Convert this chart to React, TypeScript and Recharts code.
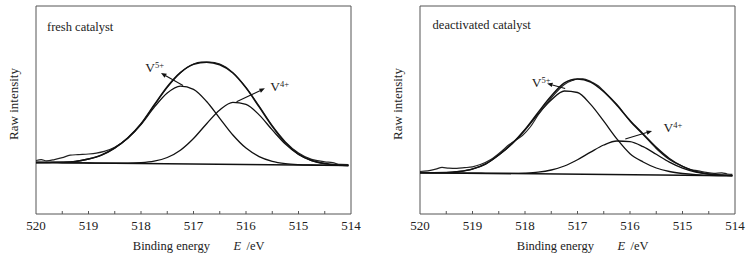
import { LineChart, Line, XAxis, YAxis, ReferenceArea, ReferenceLine, ReferenceDot } from 'recharts'

const FONT = 'Liberation Serif, Times New Roman, serif'
const INK = '#111'
const FRAME = '#555'
const serif = { fontFamily: FONT }

// binding energy axis (eV), reversed like the original
const energyTicks = [520, 519.5, 519, 518.5, 518, 517.5, 517, 516.5, 516, 515.5, 515, 514.5, 514]
const fitEnergy = [
  520, 519.75, 519.5, 519.25, 519, 518.75, 518.5, 518.25, 518, 517.75, 517.5, 517.25, 517,
  516.75, 516.5, 516.25, 516, 515.75, 515.5, 515.25, 515, 514.75, 514.5, 514.25, 514.05,
]
const baselineEnergy = [520, 514.05]

// fresh catalyst
const freshRawEnergy = [
  520, 519.9, 519.8, 519.65, 519.5, 519.35, 519.2, 519, 518.85, 518.7, 518.5, 518.25, 518, 517.75,
  517.5, 517.25, 517, 516.85, 516.7, 516.5, 516.25, 516, 515.75, 515.5, 515.25, 515, 514.75, 514.5,
  514.35, 514.2, 514.05,
]
const freshRaw = [
  51.5, 52.3, 51.2, 52.4, 54.3, 56.8, 57.4, 58, 58.9, 60.6, 64.8, 73.8, 87.8, 106.5, 124.6, 139.2,
  148, 149.8, 150, 148, 139.4, 124.6, 105.8, 86.3, 70.2, 59, 52.6, 50.2, 49.3, 47.6, 47.4,
]
const freshFit = [
  49.5, 49.6, 49.8, 50.5, 53, 57, 64, 74.2, 88.3, 107, 125.3, 139.4, 147.6, 149.8, 147.2, 139, 124.1,
  105.1, 85.6, 69.2, 57.9, 51.5, 48.4, 47.1, 46.6,
]
const freshV5 = [
  49.5, 49.6, 49.8, 50.5, 53, 57, 64, 74, 87.5, 104.6, 119, 125.9, 122.7, 110.5, 93.7, 77, 63.9, 55.4,
  50.7, 48.4, 47.4, 47, 46.8, 46.6, 46.5,
]
const freshV4 = [
  49.5, 49.4, 49.25, 49.1, 49, 48.9, 48.8, 48.85, 49.3, 50.8, 54.5, 61.8, 73.5, 88.3, 102, 109.6,
  107.7, 97.1, 82.1, 67.9, 57.5, 51.4, 48.4, 47.1, 46.6,
]
const freshBaseline = [49.5, 46.5]

// deactivated catalyst
const deactRawEnergy = [
  520, 519.85, 519.7, 519.58, 519.45, 519.3, 519.15, 519, 518.85, 518.65, 518.45, 518.3, 518.2,
  518.05, 517.9, 517.75, 517.5, 517.25, 517.1, 517, 516.9, 516.75, 516.6, 516.5, 516.25, 516,
  515.75, 515.5, 515.25, 515, 514.85, 514.7, 514.55, 514.4, 514.25, 514.15, 514.05,
]
const deactRaw = [
  40.5, 41.2, 42.8, 44.6, 43.8, 43.6, 44.3, 45.2, 47.5, 52.5, 60.5, 67.5, 71, 76.5, 85, 97, 114, 127.5,
  131.5, 133, 133.2, 130.5, 126, 121, 107.5, 91, 77.5, 63.5, 52.5, 45.8, 42.5, 41.2, 39.6, 38.6, 39.2,
  38, 37.6,
]
const deactFit = [
  39.3, 39.3, 39.4, 40.5, 43, 48, 57, 68.2, 82.6, 99.6, 115.9, 129.1, 133, 129.8, 120.2, 106.7, 91.4,
  78.1, 64.6, 53.5, 45.6, 40.6, 38, 36.9, 36.45,
]
const deactV5 = [
  39.3, 39.3, 39.4, 40.5, 43, 48, 57, 68, 82, 98, 112, 121, 119.5, 107.6, 90.8, 73.1, 58.3, 50, 44,
  40.5, 38.5, 37.3, 36.6, 36.45, 36.35,
]
const deactV4 = [
  39.3, 39.2, 39.05, 38.95, 38.8, 38.7, 38.6, 38.6, 38.9, 39.8, 42, 46, 52.3, 59.9, 67, 71, 70.4, 65.3,
  57.7, 49.9, 43.9, 40, 37.9, 36.9, 36.45,
]
const deactBaseline = [39.3, 36.3]

type Mark = { ion: string; from: [number, number]; tip: [number, number]; label: [number, number] }

const freshMarks: Mark[] = [
  { ion: '5+', from: [517.2, 126.5], tip: [517.62, 139], label: [517.92, 140] },
  { ion: '4+', from: [516.18, 110.3], tip: [515.64, 123.7], label: [515.54, 121.3] },
]
const deactMarks: Mark[] = [
  { ion: '5+', from: [517.235, 123.5], tip: [517.58, 128.5], label: [517.87, 125.3] },
  { ion: '4+', from: [516.09, 73], tip: [515.58, 81], label: [515.36, 80.3] },
]

const zip = (xs: number[], ys: number[]) => xs.map((e, i) => ({ e, v: ys[i] }))

function EnergyTick(props: any) {
  const { x, y, payload } = props
  const v = payload.value as number
  return (
    <g>
      {v !== 520 && v !== 514 && <line x1={x} y1={y} x2={x} y2={y - 3} stroke={FRAME} />}
      {Number.isInteger(v) && (
        <text x={x} y={y + 15.5} textAnchor="middle" fontSize={13} style={serif} fill="#222">
          {v}
        </text>
      )}
    </g>
  )
}

function Arrow(props: any) {
  const { x1, y1, x2, y2 } = props
  const a = Math.atan2(y2 - y1, x2 - x1)
  const c = Math.cos(a)
  const s = Math.sin(a)
  const bx = x2 - 5.5 * c
  const by = y2 - 5.5 * s
  const pts = `${x2},${y2} ${bx + 2.2 * s},${by - 2.2 * c} ${bx - 2.2 * s},${by + 2.2 * c}`
  return (
    <g>
      <line x1={x1} y1={y1} x2={bx} y2={by} stroke={INK} strokeWidth={1.1} />
      <polygon points={pts} fill={INK} />
    </g>
  )
}

const ionLabel = (ion: string) => (props: any) => (
  <text x={props.cx} y={props.cy} style={serif} fontSize={13.5} fill="#222">
    V
    <tspan dy={-4} fontSize={8.5}>
      {ion}
    </tspan>
  </text>
)

const frameLabel = (title: string, dx: number, dy: number) => (props: any) => {
  const { x, y, width, height } = props.viewBox
  const cx = x + width / 2
  const by = y + height + 36
  return (
    <g style={serif} fill="#222">
      <text x={x + dx} y={y + dy} fontSize={12.5} style={serif}>
        {title}
      </text>
      <text
        transform={`translate(${x - 22.5}, ${y + height / 2 - 6}) rotate(-90)`}
        textAnchor="middle"
        dominantBaseline="central"
        fontSize={13}
        style={serif}
      >
        Raw intensity
      </text>
      <text x={cx - 60.7} y={by} fontSize={12.5} style={serif}>
        Binding energy
      </text>
      <text x={cx + 40} y={by} fontSize={12.5} fontStyle="italic" style={serif}>
        E
      </text>
      <text x={cx + 53} y={by} fontSize={12.5} style={serif}>
        /eV
      </text>
    </g>
  )
}

type PanelProps = {
  title: string
  titleDx: number
  titleDy: number
  width: number
  left: number
  right: number
  rawEnergy: number[]
  raw: number[]
  fit: number[]
  v5: number[]
  v4: number[]
  baseline: number[]
  marks: Mark[]
}

function XpsPanel(p: PanelProps) {
  return (
    <LineChart width={p.width} height={254} margin={{ top: 6, right: p.right, bottom: 10, left: p.left }}>
      <XAxis
        type="number"
        dataKey="e"
        domain={[514, 520]}
        reversed
        allowDataOverflow
        ticks={energyTicks}
        interval={0}
        tickSize={0}
        tickMargin={0}
        tickLine={false}
        axisLine={false}
        tick={<EnergyTick />}
        height={30}
      />
      <YAxis type="number" domain={[-2, 206]} allowDataOverflow hide />
      <ReferenceArea
        x1={514}
        x2={520}
        y1={-2}
        y2={206}
        fill="none"
        stroke={FRAME}
        strokeWidth={1}
        label={frameLabel(p.title, p.titleDx, p.titleDy)}
      />
      <Line data={zip(baselineEnergy, p.baseline)} dataKey="v" type="linear" stroke={INK} strokeWidth={1.6} dot={false} isAnimationActive={false} />
      <Line data={zip(fitEnergy, p.v5)} dataKey="v" type="monotone" stroke={INK} strokeWidth={1.3} dot={false} isAnimationActive={false} />
      <Line data={zip(fitEnergy, p.v4)} dataKey="v" type="monotone" stroke={INK} strokeWidth={1.3} dot={false} isAnimationActive={false} />
      <Line data={zip(p.rawEnergy, p.raw)} dataKey="v" type="monotone" stroke="#222" strokeWidth={1.2} dot={false} isAnimationActive={false} />
      <Line data={zip(fitEnergy, p.fit)} dataKey="v" type="monotone" stroke={INK} strokeWidth={1.5} dot={false} isAnimationActive={false} />
      {p.marks.map((m) => (
        <ReferenceLine
          key={`a${m.ion}`}
          segment={[
            { x: m.from[0], y: m.from[1] },
            { x: m.tip[0], y: m.tip[1] },
          ]}
          shape={Arrow}
        />
      ))}
      {p.marks.map((m) => (
        <ReferenceDot key={`l${m.ion}`} x={m.label[0]} y={m.label[1]} r={0} shape={ionLabel(m.ion)} />
      ))}
    </LineChart>
  )
}

export default function App() {
  return (
    <div style={{ position: 'absolute', left: 0, top: 0, width: 747, height: 254, background: '#fff', fontFamily: FONT }}>
      <div style={{ position: 'absolute', left: 0, top: 0 }}>
        <XpsPanel
          title="fresh catalyst"
          titleDx={11}
          titleDy={24.7}
          width={374}
          left={36}
          right={23}
          rawEnergy={freshRawEnergy}
          raw={freshRaw}
          fit={freshFit}
          v5={freshV5}
          v4={freshV4}
          baseline={freshBaseline}
          marks={freshMarks}
        />
      </div>
      <div style={{ position: 'absolute', left: 374, top: 0 }}>
        <XpsPanel
          title="deactivated catalyst"
          titleDx={12.6}
          titleDy={22.7}
          width={373}
          left={46}
          right={12}
          rawEnergy={deactRawEnergy}
          raw={deactRaw}
          fit={deactFit}
          v5={deactV5}
          v4={deactV4}
          baseline={deactBaseline}
          marks={deactMarks}
        />
      </div>
    </div>
  )
}
